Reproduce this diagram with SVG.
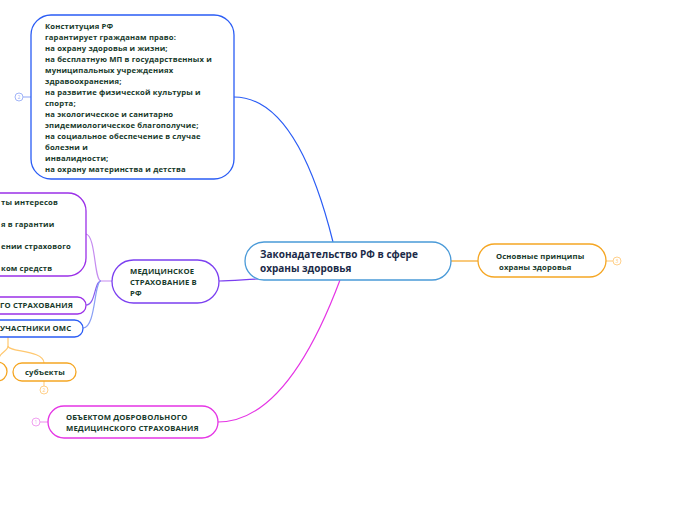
<svg xmlns="http://www.w3.org/2000/svg" width="696" height="520" viewBox="0 0 696 520">
<style>
.node{fill:#ffffff;stroke-width:1.3}
.t{font-family:"Open Sans","Noto Sans","DejaVu Sans",sans-serif;font-weight:700;font-size:7.7px;letter-spacing:0.15px;fill:#173a2b}
.tc{font-family:"Open Sans","Noto Sans","DejaVu Sans",sans-serif;font-weight:700;font-size:10px;fill:#1b2a48}
.c{fill:none;stroke-width:1.2}
.num{font-family:"Open Sans","DejaVu Sans",sans-serif;font-size:5px;text-anchor:middle}
</style>
<rect width="696" height="520" fill="#ffffff"/>
<g id="connectors">
  <path class="c" stroke="#2a5cf5" stroke-width="1.6" d="M234,97 C285,97 315,170 333,242"/>
  <path class="c" stroke="#f5a623" d="M451,261 L478,261"/>
  <path class="c" stroke="#7b3ff0" d="M258,279 C240,280 230,281 219,281"/>
  <path class="c" stroke="#e535e5" stroke-width="1.6" d="M340,280 C310,360 270,422 218,422"/>
  <path class="c" stroke="#c58cf0" d="M112,281 L101,281 C94,281 96,236 86,234"/>
  <path class="c" stroke="#8a5cf0" d="M101,281 C94,281 96,305 86,305"/>
  <path class="c" stroke="#8aa0f5" d="M101,281 C94,281 96,328 83,328"/>
  <path class="c" stroke="#ffc870" d="M8,337 L8,346 C8,352 44,350 44,363"/>
  <path class="c" stroke="#ffc870" d="M8,346 C8,352 -2,352 -2,362"/>
  <path class="c" stroke="#a0b4f8" d="M31,97 L23,97"/>
  <path class="c" stroke="#f0a0f0" d="M48,422 L40,422"/>
  <path class="c" stroke="#ffd08a" d="M606,261 L613,261"/>
  <path class="c" stroke="#ffd08a" d="M44,381 L44,386"/>
</g>
<g id="n-center">
  <rect class="node" x="245" y="242" width="206" height="38" rx="19" stroke="#4a9ad8"/>
  <text class="tc" x="260" y="258">Законадательство РФ в сфере</text>
  <text class="tc" x="260" y="272">охраны здоровья</text>
</g>
<g id="n-constitution">
  <rect class="node" x="31" y="15" width="203" height="164" rx="20" stroke="#2a5cf5"/>
  <text class="t" x="45" y="29">Конституция РФ</text>
  <text class="t" x="45" y="40">гарантирует гражданам право:</text>
  <text class="t" x="45" y="51">на охрану здоровья и жизни;</text>
  <text class="t" x="45" y="62">на бесплатную МП в государственных и</text>
  <text class="t" x="45" y="73">муниципальных учреждениях</text>
  <text class="t" x="45" y="84">здравоохранения;</text>
  <text class="t" x="45" y="95">на развитие физической культуры и</text>
  <text class="t" x="45" y="106">спорта;</text>
  <text class="t" x="45" y="117">на экологическое и санитарно</text>
  <text class="t" x="45" y="128">эпидемиологическое благополучие;</text>
  <text class="t" x="45" y="139">на социальное обеспечение в случае</text>
  <text class="t" x="45" y="150">болезни и</text>
  <text class="t" x="45" y="161">инвалидности;</text>
  <text class="t" x="45" y="172">на охрану материнства и детства</text>
  <circle cx="19" cy="97" r="4" fill="#ffffff" stroke="#a0b4f8" stroke-width="1"/>
  <text class="num" x="19" y="99" fill="#a0b4f8">2</text>
</g>
<g id="n-principles">
  <rect class="node" x="478" y="244" width="128" height="33" rx="16.5" stroke="#f5a623"/>
  <text class="t" x="496" y="259">Основные принципы</text>
  <text class="t" x="499" y="270">охраны здоровья</text>
  <circle cx="617" cy="261" r="4" fill="#ffffff" stroke="#ffd08a" stroke-width="1"/>
  <text class="num" x="617" y="263" fill="#ffc870">3</text>
</g>
<g id="n-insurance">
  <rect class="node" x="112" y="260" width="107" height="43" rx="21.5" stroke="#7b3ff0"/>
  <text class="t" x="130" y="274">МЕДИЦИНСКОЕ</text>
  <text class="t" x="130" y="285">СТРАХОВАНИЕ В</text>
  <text class="t" x="130" y="296">РФ</text>
</g>
<g id="n-goals">
  <rect class="node" x="-40" y="193" width="126" height="83" rx="18" stroke="#9b30e8"/>
  <text class="t" x="1" y="205">ты интересов</text>
  <text class="t" x="1" y="227">я в гарантии</text>
  <text class="t" x="1" y="249">ении страхового</text>
  <text class="t" x="1" y="271">ком средств</text>
</g>
<g id="n-types">
  <rect class="node" x="-40" y="297" width="126" height="17" rx="8.5" stroke="#9b30e8"/>
  <text class="t" x="0" y="308">ГО СТРАХОВАНИЯ</text>
</g>
<g id="n-participants">
  <rect class="node" x="-40" y="320" width="123" height="17" rx="8.5" stroke="#2a5cf5"/>
  <text class="t" x="0" y="331">УЧАСТНИКИ ОМС</text>
</g>
<g id="n-left-child">
  <rect class="node" x="-40" y="362" width="47" height="19" rx="9.5" stroke="#f5a623"/>
</g>
<g id="n-subjects">
  <rect class="node" x="13" y="363" width="63" height="18" rx="9" stroke="#f5a623"/>
  <text class="t" x="25" y="375">субъекты</text>
  <circle cx="44" cy="390" r="4" fill="#ffffff" stroke="#ffd08a" stroke-width="1"/>
  <text class="num" x="44" y="392" fill="#ffc870">2</text>
</g>
<g id="n-object">
  <rect class="node" x="48" y="406" width="170" height="32" rx="16" stroke="#e535e5"/>
  <text class="t" x="66" y="420">ОБЪЕКТОМ ДОБРОВОЛЬНОГО</text>
  <text class="t" x="66" y="431">МЕДИЦИНСКОГО СТРАХОВАНИЯ</text>
  <circle cx="36" cy="422" r="4" fill="#ffffff" stroke="#f0a0f0" stroke-width="1"/>
  <text class="num" x="36" y="424" fill="#f0a0f0">1</text>
</g>
</svg>
